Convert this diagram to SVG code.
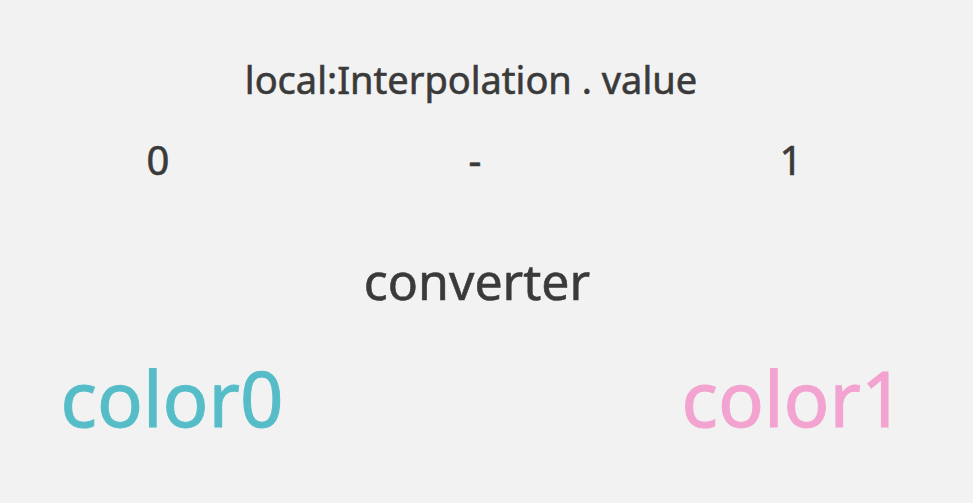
<svg xmlns="http://www.w3.org/2000/svg" width="973" height="503" viewBox="0 0 973 503">
<style>
text{font-family:"Noto Sans","Open Sans","DejaVu Sans",sans-serif;text-anchor:middle;fill:#3a3a3a;stroke:#3a3a3a;stroke-width:0.6px}
.t{font-size:38px}
.d{font-size:40px}
.c{font-size:50px}
.big{font-size:76px;stroke-width:1px}
.teal{fill:#56bdc8;stroke:#56bdc8}
.pink{fill:#f2a3cf;stroke:#f2a3cf}
</style>
<rect width="973" height="503" fill="#f2f2f2"/>
<g id="title"><text class="t" x="471" y="94">local:Interpolation . value</text></g>
<g id="zero"><text class="d" x="158" y="175">0</text></g>
<g id="dash"><text class="d" x="475" y="175">-</text></g>
<g id="one"><text class="d" x="791" y="175">1</text></g>
<g id="converter"><text class="c" x="477" y="300">converter</text></g>
<g id="color0"><text class="big teal" x="172" y="427">color0</text></g>
<g id="color1"><text class="big pink" x="793" y="427">color1</text></g>
<g id="connectors"/>
</svg>
